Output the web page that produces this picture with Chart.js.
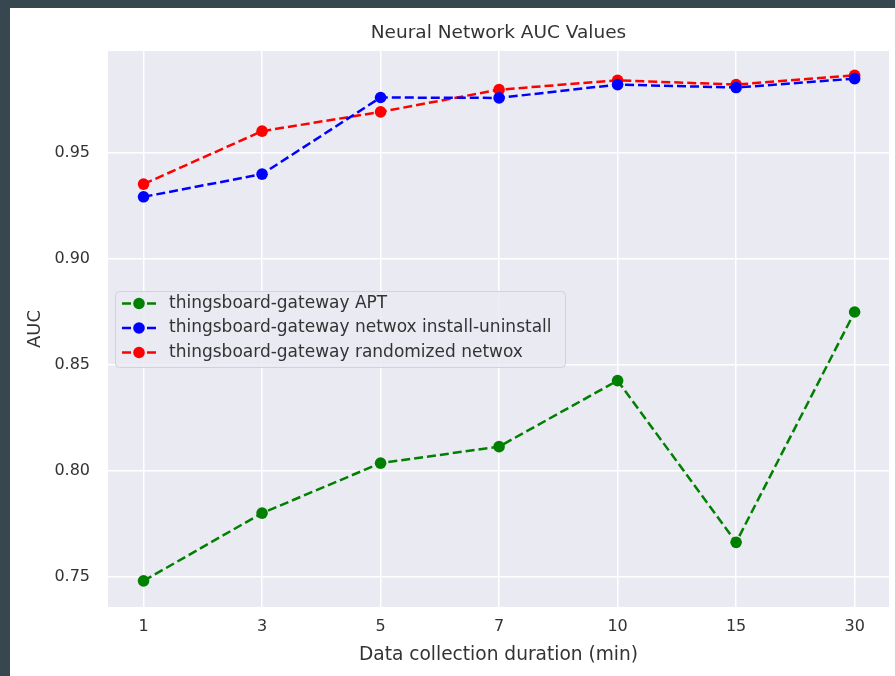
<!DOCTYPE html>
<html>
<head>
<meta charset="utf-8">
<script src="https://cdn.jsdelivr.net/npm/chart.js@4/dist/chart.umd.min.js"></script>
<style>
  html, body { margin: 0; padding: 0; background: #36474f; width: 895px; height: 676px; overflow: hidden; }
  #frame { position: absolute; left: 10px; top: 8px; width: 885px; height: 668px; background: #ffffff; }
  canvas { display: block; }
</style>
</head>
<body>
<div id="frame"><canvas id="chart" width="885" height="668"></canvas></div>
<script>
// Collection durations (minutes) on the x axis
const durations = ['1', '3', '5', '7', '10', '15', '30'];

// AUC per collection duration for each scenario
const aptAUC        = [0.748, 0.780, 0.8036, 0.8114, 0.8426, 0.7662, 0.875];
const installAUC    = [0.9294, 0.9401, 0.9763, 0.9761, 0.9824, 0.9810, 0.9852];
const randomizedAUC = [0.9354, 0.9604, 0.9695, 0.9800, 0.9844, 0.9824, 0.9868];

// Y tick values
const aucTicks = [0.75, 0.80, 0.85, 0.90, 0.95];

const seriesNames = [
  'thingsboard-gateway APT',
  'thingsboard-gateway netwox install-uninstall',
  'thingsboard-gateway randomized netwox'
];

const FONT = "'DejaVu Sans', sans-serif";
const TEXT = '#333333';
const LINE_W = 2.5;
const DASH = [9, 4];

const toPoints = arr => arr.map((v, i) => ({ x: i, y: v }));

function lineSet(label, values, color) {
  return {
    label,
    data: toPoints(values),
    borderColor: color,
    backgroundColor: color,
    borderWidth: LINE_W,
    borderDash: DASH,
    pointRadius: 5.8,
    pointHoverRadius: 5.8,
    pointBorderWidth: 0,
    pointBackgroundColor: color,
    tension: 0,
    fill: false
  };
}

// Seaborn-style grey panel behind the plot
const panelBg = {
  id: 'panelBg',
  beforeDraw(chart) {
    const { ctx, chartArea: a } = chart;
    ctx.save();
    ctx.fillStyle = '#eaeaf2';
    ctx.fillRect(a.left, a.top, a.right - a.left, a.bottom - a.top);
    ctx.restore();
  }
};

// Framed legend inside the axes: "-●-" handle per series
const insetLegend = {
  id: 'insetLegend',
  afterDatasetsDraw(chart) {
    const { ctx, chartArea: a } = chart;
    const x0 = a.left + 7, y0 = a.top + 240, w = 450, h = 76;
    ctx.save();
    ctx.beginPath();
    if (ctx.roundRect) ctx.roundRect(x0 + 0.5, y0 + 0.5, w, h, 4); else ctx.rect(x0 + 0.5, y0 + 0.5, w, h);
    ctx.fillStyle = 'rgba(234,234,242,0.85)';
    ctx.fill();
    ctx.strokeStyle = '#d2d2da';
    ctx.lineWidth = 1;
    ctx.stroke();
    ctx.font = '17px ' + FONT;
    ctx.textBaseline = 'middle';
    ctx.textAlign = 'left';
    chart.data.datasets.forEach((ds, i) => {
      const cy = y0 + 12.5 + i * 24.5;
      ctx.strokeStyle = ds.borderColor;
      ctx.lineWidth = LINE_W;
      ctx.beginPath();
      ctx.moveTo(x0 + 7, cy);
      ctx.lineTo(x0 + 16, cy);
      ctx.moveTo(x0 + 32, cy);
      ctx.lineTo(x0 + 41, cy);
      ctx.stroke();
      ctx.fillStyle = ds.borderColor;
      ctx.beginPath();
      ctx.arc(x0 + 24, cy, 5.8, 0, Math.PI * 2);
      ctx.fill();
      ctx.fillStyle = TEXT;
      ctx.fillText(ds.label, x0 + 54, cy);
    });
    ctx.restore();
  }
};

new Chart(document.getElementById('chart'), {
  type: 'line',
  data: {
    datasets: [
      lineSet(seriesNames[0], aptAUC, '#008000'),
      lineSet(seriesNames[1], installAUC, '#0000ff'),
      lineSet(seriesNames[2], randomizedAUC, '#ff0000')
    ]
  },
  options: {
    responsive: false,
    animation: false,
    events: [],
    layout: { padding: { left: 0, right: 6, top: 0, bottom: 0 } },
    plugins: {
      legend: { display: false },
      tooltip: { enabled: false },
      title: {
        display: true,
        fullSize: false,
        text: 'Neural Network AUC Values',
        color: TEXT,
        font: { family: FONT, size: 18.5, weight: 'normal', lineHeight: 1.2 },
        padding: { top: 14, bottom: 6.8 }
      }
    },
    scales: {
      x: {
        type: 'linear',
        min: -0.3,
        max: 6.29,
        afterBuildTicks(scale) {
          scale.ticks = durations.map((_, i) => ({ value: i }));
        },
        afterFit(scale) { scale.height = 69; },
        ticks: {
          autoSkip: false,
          maxRotation: 0,
          padding: 10,
          color: TEXT,
          font: { family: FONT, size: 16 },
          callback: v => durations[v]
        },
        grid: { color: '#ffffff', lineWidth: 1.5, drawTicks: false },
        border: { display: false },
        title: {
          display: true,
          text: 'Data collection duration (min)',
          color: TEXT,
          font: { family: FONT, size: 18.6, lineHeight: 1.2 },
          padding: { top: 0, bottom: 10 }
        }
      },
      y: {
        type: 'linear',
        min: 0.73566,
        max: 0.99826,
        afterBuildTicks(scale) {
          scale.ticks = aucTicks.map(v => ({ value: v }));
        },
        afterFit(scale) { scale.width = 98; },
        ticks: {
          padding: 18,
          color: TEXT,
          font: { family: FONT, size: 16 },
          callback: v => Number(v).toFixed(2)
        },
        grid: { color: '#ffffff', lineWidth: 1.5, drawTicks: false },
        border: { display: false },
        title: {
          display: true,
          text: 'AUC',
          color: TEXT,
          font: { family: FONT, size: 18, lineHeight: 1.2 },
          padding: { top: 15, bottom: 0 }
        }
      }
    }
  },
  plugins: [panelBg, insetLegend]
});
</script>
</body>
</html>
